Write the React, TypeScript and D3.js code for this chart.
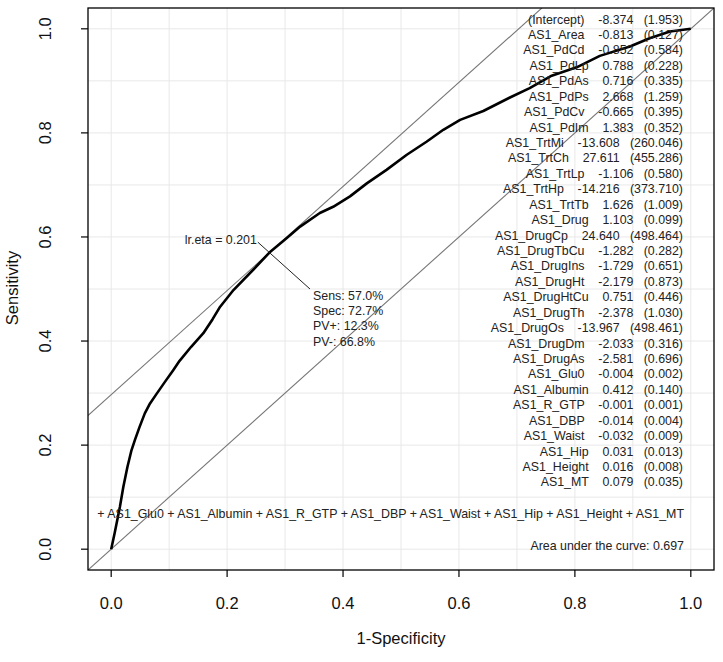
import React from "react";
import * as d3 from "d3";

const W = 723;
const H = 662;

// ROC curve points (1-Specificity, Sensitivity)
const fpr = [0, 0.006, 0.015, 0.021, 0.028, 0.035, 0.041, 0.049, 0.058, 0.067, 0.078, 0.093, 0.107, 0.118, 0.138, 0.159, 0.175, 0.188, 0.211, 0.245, 0.273, 0.303, 0.326, 0.36, 0.383, 0.412, 0.441, 0.475, 0.51, 0.544, 0.573, 0.602, 0.642, 0.688, 0.722, 0.76, 0.803, 0.843, 0.895, 0.929, 0.964, 1];
const tpr = [0, 0.031, 0.081, 0.12, 0.158, 0.19, 0.21, 0.235, 0.261, 0.28, 0.298, 0.322, 0.344, 0.362, 0.389, 0.415, 0.442, 0.466, 0.498, 0.537, 0.57, 0.598, 0.62, 0.646, 0.658, 0.678, 0.703, 0.729, 0.758, 0.783, 0.806, 0.825, 0.842, 0.868, 0.886, 0.91, 0.926, 0.948, 0.966, 0.982, 0.995, 1];

const ticks = [0, 0.2, 0.4, 0.6, 0.8, 1.0];
const tickLabels = ["0.0", "0.2", "0.4", "0.6", "0.8", "1.0"];
const gridVals = [0, 0.1, 0.2, 0.3, 0.4, 0.5, 0.6, 0.7, 0.8, 0.9, 1.0];

const coefNames = ["(Intercept)", "AS1_Area", "AS1_PdCd", "AS1_PdLp", "AS1_PdAs", "AS1_PdPs", "AS1_PdCv", "AS1_PdIm", "AS1_TrtMi", "AS1_TrtCh", "AS1_TrtLp", "AS1_TrtHp", "AS1_TrtTb", "AS1_Drug", "AS1_DrugCp", "AS1_DrugTbCu", "AS1_DrugIns", "AS1_DrugHt", "AS1_DrugHtCu", "AS1_DrugTh", "AS1_DrugOs", "AS1_DrugDm", "AS1_DrugAs", "AS1_Glu0", "AS1_Albumin", "AS1_R_GTP", "AS1_DBP", "AS1_Waist", "AS1_Hip", "AS1_Height", "AS1_MT"];
const coefEst = ["-8.374", "-0.813", "-0.852", "0.788", "0.716", "2.668", "-0.665", "1.383", "-13.608", "27.611", "-1.106", "-14.216", "1.626", "1.103", "24.640", "-1.282", "-1.729", "-2.179", "0.751", "-2.378", "-13.967", "-2.033", "-2.581", "-0.004", "0.412", "-0.001", "-0.014", "-0.032", "0.031", "0.016", "0.079"];
const coefSE = ["1.953", "0.127", "0.584", "0.228", "0.335", "1.259", "0.395", "0.352", "260.046", "455.286", "0.580", "373.710", "1.009", "0.099", "498.464", "0.282", "0.651", "0.873", "0.446", "1.030", "498.461", "0.316", "0.696", "0.002", "0.140", "0.001", "0.004", "0.009", "0.013", "0.008", "0.035"];

const formulaLine = "+ AS1_Glu0 + AS1_Albumin + AS1_R_GTP + AS1_DBP + AS1_Waist + AS1_Hip + AS1_Height + AS1_MT";
const aucText = "Area under the curve: 0.697";

// optimal cut point
const optSens = 0.570;
const optSpec = 0.727;
const optLabel = "lr.eta = 0.201";
const optStats = ["Sens: 57.0%", "Spec: 72.7%", "PV+: 12.3%", "PV-: 66.8%"];

const FONT = "'Liberation Sans', Arial, Helvetica, sans-serif";

export default function App() {
  const x = d3.scaleLinear().domain([-0.04, 1.04]).range([88, 714]);
  const y = d3.scaleLinear().domain([-0.04, 1.04]).range([570, 8]);
  const pts: [number, number][] = fpr.map((f, i) => [f, tpr[i]]);
  const line = d3.line<[number, number]>().x((d) => x(d[0])).y((d) => y(d[1]));

  const ox = 1 - optSpec;
  const oy = optSens;
  const intercept = optSens + optSpec - 1;

  const rowH = 15.43;
  const tableRight = 683;
  const rowTop = 23.5;
  const fs = 12.4;

  const rows = coefNames.map((n, i) => `${n}    ${coefEst[i]}   (${coefSE[i]})`);

  const lx0 = ox - 0.02, ly0 = oy + 0.02;
  const lx1 = ox + 0.07, ly1 = oy - 0.07;

  return (
    <svg width={W} height={H} style={{ position: "fixed", left: 0, top: 0, background: "#fff" }} fontFamily={FONT}>
      <defs>
        <clipPath id="plotclip">
          <rect x={88} y={8} width={626} height={562} />
        </clipPath>
      </defs>
      <rect x={0} y={0} width={W} height={H} fill="#fff" />
      <g clipPath="url(#plotclip)">
        {gridVals.map((g) => (
          <line key={"gx" + g} x1={x(g)} x2={x(g)} y1={8} y2={570} stroke="#e8e8e8" strokeWidth={1} />
        ))}
        {gridVals.map((g) => (
          <line key={"gy" + g} y1={y(g)} y2={y(g)} x1={88} x2={714} stroke="#e8e8e8" strokeWidth={1} />
        ))}
        <line x1={x(-0.1)} y1={y(-0.1)} x2={x(1.1)} y2={y(1.1)} stroke="#777" strokeWidth={1.1} />
        <line x1={x(-0.1)} y1={y(-0.1 + intercept)} x2={x(1.1)} y2={y(1.1 + intercept)} stroke="#777" strokeWidth={1.1} />
        <path d={line(pts) || ""} fill="none" stroke="#000" strokeWidth={2.6} strokeLinejoin="round" />
        <line x1={x(lx0)} y1={y(ly0)} x2={x(lx1)} y2={y(ly1)} stroke="#222" strokeWidth={1} />
      </g>
      <text x={x(lx0) - 1} y={y(ly0) + 2} fontSize={fs} textAnchor="end" fill="#222">{optLabel}</text>
      {optStats.map((s, i) => (
        <text key={s} x={x(lx1) + 3} y={y(ly1) + 10.5 + i * 15.4} fontSize={fs} fill="#222">{s}</text>
      ))}
      {rows.map((r, i) => (
        <text key={coefNames[i]} x={tableRight} y={rowTop + i * rowH} fontSize={fs} textAnchor="end" fill="#222" style={{ whiteSpace: "pre" }} xmlSpace="preserve">{r}</text>
      ))}
      <text x={684} y={517.5} fontSize={fs} textAnchor="end" fill="#222">{formulaLine}</text>
      <text x={684} y={549.5} fontSize={fs} textAnchor="end" fill="#222">{aucText}</text>
      <rect x={88} y={8} width={626} height={562} fill="none" stroke="#000" strokeWidth={1.3} />
      {ticks.map((t, i) => (
        <g key={"xt" + t}>
          <line x1={x(t)} x2={x(t)} y1={570} y2={577} stroke="#000" strokeWidth={1.2} />
          <text x={x(t)} y={609} fontSize={16.5} textAnchor="middle" fill="#111">{tickLabels[i]}</text>
        </g>
      ))}
      {ticks.map((t, i) => (
        <g key={"yt" + t}>
          <line x1={88} x2={81} y1={y(t)} y2={y(t)} stroke="#000" strokeWidth={1.2} />
          <text transform={`translate(51,${y(t)}) rotate(-90)`} fontSize={16.5} textAnchor="middle" fill="#111">{tickLabels[i]}</text>
        </g>
      ))}
      <text x={401} y={644} fontSize={16.5} textAnchor="middle" fill="#111">1-Specificity</text>
      <text transform={`translate(18,288) rotate(-90)`} fontSize={16.5} textAnchor="middle" fill="#111">Sensitivity</text>
    </svg>
  );
}
